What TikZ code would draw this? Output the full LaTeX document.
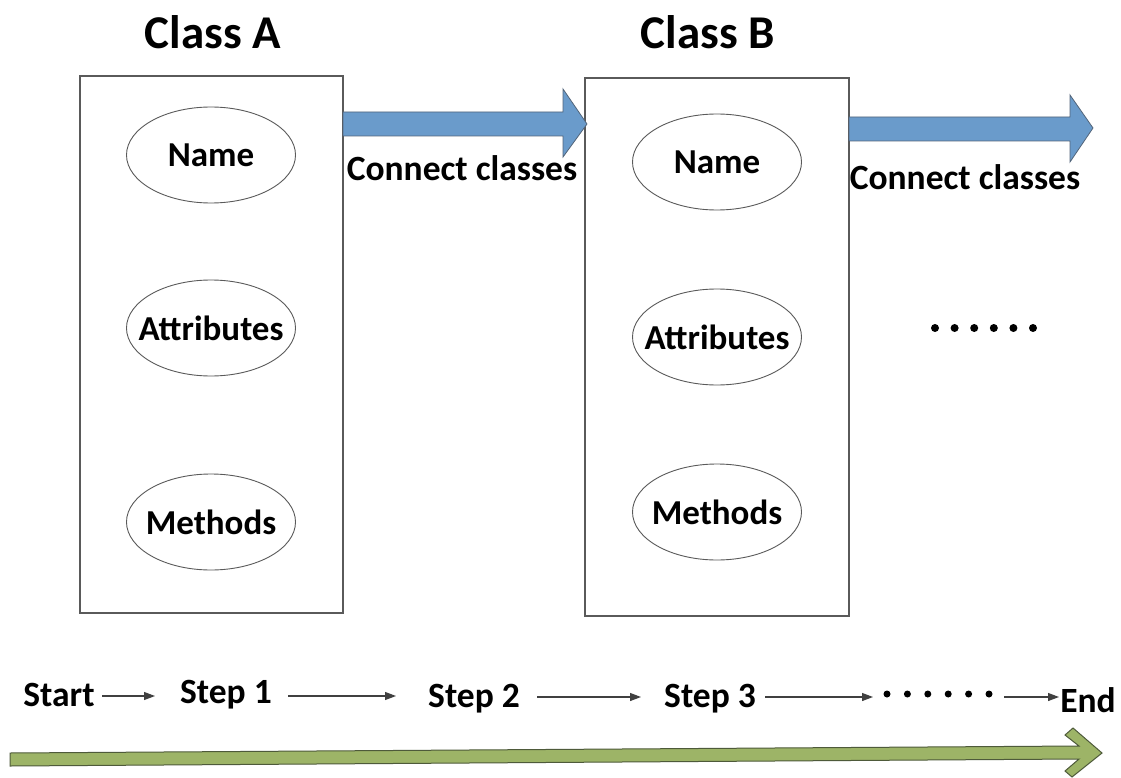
\documentclass[tikz,border=0pt]{standalone}
\usepackage{fontspec}
\setmainfont{Carlito}
\usetikzlibrary{arrows.meta}
\definecolor{boxline}{HTML}{5A5A5A}
\definecolor{linkblue}{HTML}{6A9BCB}
\definecolor{linkedge}{HTML}{53657A}
\definecolor{flowgreen}{HTML}{9DB467}
\definecolor{flowedge}{HTML}{4E5A3A}
\definecolor{stepline}{HTML}{404040}
\tikzset{
  classbox/.style={draw=boxline, line width=1.1pt},
  member/.style={inner sep=0pt, minimum width=170pt, minimum height=96pt, font=\bfseries\fontsize{35}{40}\selectfont},
  ring/.style={draw=boxline, line width=0.9pt},
  title/.style={font=\bfseries\fontsize{47}{52}\selectfont},
  linklabel/.style={font=\bfseries\fontsize{35.5}{40}\selectfont},
  steplabel/.style={font=\bfseries\fontsize{35.5}{40}\selectfont},
  dot/.style={fill=black, circle, inner sep=0pt, minimum size=8pt},
  smalldot/.style={fill=black, circle, inner sep=0pt, minimum size=7pt},
  steparrow/.style={draw=stepline, line width=1.1pt, -{Triangle[length=11pt,width=8pt]}},
  link/.style={fill=linkblue, draw=linkedge, line width=0.8pt, line join=miter},
  flow/.style={fill=flowgreen, draw=flowedge, line width=1pt, line join=miter}
}
\begin{document}
\begin{tikzpicture}[x=1pt, y=-1pt]
\useasboundingbox (0,0) rectangle (1121,778);
\fill[white] (0,0) rectangle (1121,778);

% class containers
\draw[classbox] (80,76) rectangle (343,613);
\draw[classbox] (585,78) rectangle (849,616);
\node[title] (titleA) at (213,32) {Class A};
\node[title] (titleB) at (708,32) {Class B};

% members of class A
\node[member] (nameA) at (211,155) {Name};
\node[member] (attrA) at (211,328) {Attributes};
\node[member] (methA) at (211,522) {Methods};

% members of class B
\node[member] (nameB) at (717,162) {Name};
\node[member] (attrB) at (717,337) {Attributes};
\node[member] (methB) at (717,512) {Methods};

% outline round each member
\foreach \m in {nameA,attrA,methA,nameB,attrB,methB}
  \draw[ring] (\m.center) ellipse [x radius=84.5, y radius=48];

% block arrows joining the classes
\draw[link] (343,112) -- (563,112) -- (563,89) -- (587,124) -- (563,157) -- (563,136) -- (343,136) -- cycle;
\draw[link] (849,117) -- (1070,117) -- (1070,95) -- (1093,128) -- (1070,162) -- (1070,141) -- (849,141) -- cycle;
\node[linklabel] (linkA) at (462,168) {Connect classes};
\node[linklabel] (linkB) at (965,177) {Connect classes};

% continuation marks
\foreach \i in {0,...,5}
  \node[dot] (more\i) at (935+19.6*\i,328) {};

% step sequence
\node[steplabel] (start) at (59,695) {Start};
\node[steplabel] (s1) at (226,695) {Step 1};
\node[steplabel] (s2) at (474,699) {Step 2};
\node[steplabel] (s3) at (710,699) {Step 3};
\foreach \i in {0,...,5}
  \node[smalldot] (sdot\i) at (887+20.4*\i,694) {};
\node[steplabel] (fin) at (1088,700) {End};
\coordinate (a0) at (102,696);
\coordinate (a1) at (155,696);
\coordinate (b0) at (288,696);
\coordinate (b1) at (396,696);
\coordinate (c0) at (537,697);
\coordinate (c1) at (641,697);
\coordinate (d0) at (765,697);
\coordinate (d1) at (873,697);
\coordinate (e0) at (1004,697);
\coordinate (e1) at (1059,697);
\draw[steparrow] (a0) -- (a1);
\draw[steparrow] (b0) -- (b1);
\draw[steparrow] (c0) -- (c1);
\draw[steparrow] (d0) -- (d1);
\draw[steparrow] (e0) -- (e1);

% overall progress arrow
\draw[flow] (10,753) -- (1079,746) -- (1065,735) -- (1073,728) -- (1102,753) -- (1072,777) -- (1065,771) -- (1079,759) -- (10,766) -- cycle;
\end{tikzpicture}
\end{document}
